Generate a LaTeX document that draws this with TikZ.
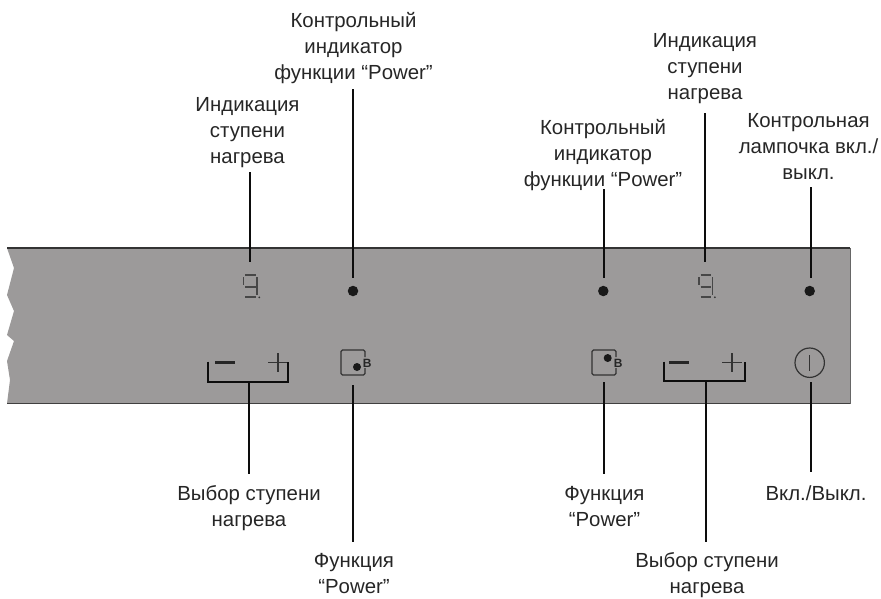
\documentclass[tikz,border=0pt]{standalone}
\usepackage{fontspec}
\setmainfont{Liberation Sans}
\definecolor{panel}{RGB}{156,154,154}
\tikzset{
  lbl/.style={anchor=south,align=center,inner sep=0pt,text depth=0pt,font=\fontsize{20.4}{26}\selectfont,text=black!85},
  lead/.style={line width=1.8pt,black!95},
  ic/.style={line width=1.2pt,black!80},
  seg/.style={line width=1.3pt,black!72},
  ledot/.style={circle,fill=black!90,inner sep=0pt,minimum size=10.5pt},
  letterb/.style={inner sep=0pt,font=\fontsize{12}{12}\selectfont\bfseries,text=black!85}
}
\newcommand{\nine}[1]{%
  \begin{scope}[shift={(#1,0)}]
  \draw[seg] (243.5,277) -- (243.5,285);
  \draw[seg] (245,275) -- (255.5,275);
  \draw[seg] (257,277) -- (257,295);
  \draw[seg] (245,287) -- (255.5,287);
  \draw[seg] (245,297) -- (255.5,297);
  \fill[black!80] (259.3,297.3) circle (1);
  \end{scope}}
\newcommand{\btn}[1]{%
  \draw[ic,rounded corners=1.5pt] (#1+24,357) -- (#1+24,350) -- (#1,350) -- (#1,375) -- (#1+24,375) -- (#1+24,368);
}
\begin{document}
\begin{tikzpicture}[x=1pt,y=-1pt]
\useasboundingbox (0,0) rectangle (881,598);
% panel
\fill[panel] (7,248) -- (14,268) -- (7,295) -- (14,311) -- (7,335) -- (14,341) -- (7,361) -- (10,380) -- (7,403.5) -- (850,403.5) -- (850,248) -- cycle;
\draw[line width=1.2pt,black!80] (7,248) -- (850,248);
\draw[line width=1.4pt,black!75] (7,403.5) -- (850,403.5);
\draw[line width=0.7pt,black!60] (850,248) -- (850,403.5);
% displays
\nine{0}
\nine{455.5}
% LEDs
\node[ledot] (ledA) at (353,291) {};
\node[ledot] (ledB) at (603.3,291) {};
\node[ledot] (ledC) at (809.7,291) {};
% power buttons
\btn{341}
\node[circle,fill=black!90,inner sep=0pt,minimum size=8pt] (dotA) at (357,367) {};
\node[letterb] (bA) at (367.3,363) {В};
\btn{592}
\node[circle,fill=black!90,inner sep=0pt,minimum size=8pt] (dotB) at (607.7,358) {};
\node[letterb] (bB) at (618.3,363) {В};
% minus plus, left
\draw[line width=2.4pt,black!85] (215,362.3) -- (235,362.3);
\draw[ic] (268,362.3) -- (288,362.3) (278,353) -- (278,372);
\draw[lead] (208,361.7) -- (208,382) -- (288,382) -- (288,361.7);
% minus plus, right
\draw[line width=2.4pt,black!85] (669,362.3) -- (689,362.3);
\draw[ic] (722,362.3) -- (742,362.3) (732,353) -- (732,372);
\draw[lead] (664,361.7) -- (664,381) -- (745,381) -- (745,361.7);
% on/off
\node[circle,draw=black!80,line width=1.2pt,inner sep=0pt,minimum size=29.4pt] (onoff) at (809.7,362.7) {};
\draw[ic] (809.7,355) -- (809.7,371);
% top labels (anchored at the last baseline)
\node[lbl] (t1) at (247.5,164) {Индикация\\ступени\\нагрева};
\node[lbl] (t2) at (353.5,80) {Контрольный\\индикатор\\функции “Power”};
\node[lbl] (t3) at (603,186.5) {Контрольный\\индикатор\\функции “Power”};
\node[lbl] (t4) at (705,100) {Индикация\\ступени\\нагрева};
\node[lbl] (t5) at (808.5,179.5) {Контрольная\\лампочка вкл./\\выкл.};
% bottom labels
\node[lbl] (b1) at (249,527) {Выбор ступени\\нагрева};
\node[lbl] (b2) at (354,594) {Функция\\“Power”};
\node[lbl] (b3) at (604.5,527) {Функция\\“Power”};
\node[lbl] (b4) at (707,594) {Выбор ступени\\нагрева};
\node[lbl] (b5) at (816,501) {Вкл./Выкл.};
% connector ends
\coordinate (s1) at (250,172); \coordinate (e1) at (250,262);
\coordinate (s2) at (353,89);  \coordinate (e2) at (353,278);
\coordinate (s3) at (604,189); \coordinate (e3) at (604,278);
\coordinate (s4) at (705,113); \coordinate (e4) at (705,262);
\coordinate (s5) at (811,187); \coordinate (e5) at (811,278);
\coordinate (u1) at (249,382); \coordinate (v1) at (249,474);
\coordinate (u2) at (353,385); \coordinate (v2) at (353,542);
\coordinate (u3) at (604,382); \coordinate (v3) at (604,474);
\coordinate (u4) at (706,381); \coordinate (v4) at (706,542);
\coordinate (u5) at (811,382); \coordinate (v5) at (811,472);
\foreach \a/\b in {s1/e1,s2/e2,s3/e3,s4/e4,s5/e5,u1/v1,u2/v2,u3/v3,u4/v4,u5/v5}
  \draw[lead] (\a) -- (\b);
\end{tikzpicture}
\end{document}
